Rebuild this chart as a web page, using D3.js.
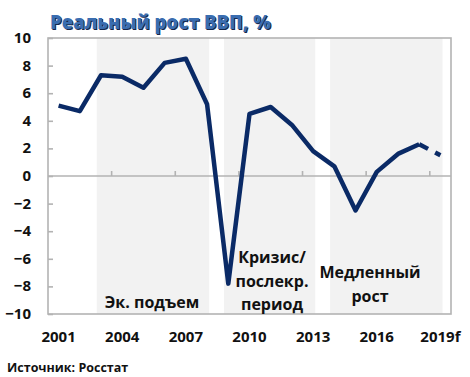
<!DOCTYPE html>
<html>
<head>
<meta charset="utf-8">
<script src="https://cdn.jsdelivr.net/npm/d3@7"></script>
<style>
  body { margin: 0; background: #fff; }
  svg text { font-family: "Open Sans", sans-serif; font-weight: bold; }
  .title { font-size: 18.5px; font-weight: 800; fill: #3a6db0; text-shadow: 1px 1px 0 #16264a; }
  .tick-label { font-size: 15px; fill: #111; }
  .note { font-size: 16px; fill: #111; }
  .source { font-size: 12.5px; fill: #111; }
</style>
</head>
<body>
<svg id="chart"></svg>
<script>
(function () {

// Data
const years = ["2001", "2002", "2003", "2004", "2005", "2006", "2007", "2008", "2009", "2010",
               "2011", "2012", "2013", "2014", "2015", "2016", "2017", "2018", "2019f"];
const growth = [5.1, 4.7, 7.3, 7.2, 6.4, 8.2, 8.5, 5.2, -7.8, 4.5,
                5.0, 3.7, 1.8, 0.7, -2.5, 0.3, 1.6, 2.3, 1.5];
const xLabels = ["2001", "2004", "2007", "2010", "2013", "2016", "2019f"];
const yTicks = [10, 8, 6, 4, 2, 0, -2, -4, -6, -8, -10];
const periodFrom = ["2003", "2009", "2014"];
const periodTo = ["2008", "2013", "2019f"];
const periodNotes = [["Эк. подъем"], ["Кризис/", "послекр.", "период"], ["Медленный", "рост"]];

const W = 470, H = 377;
const margin = {top: 38, right: 19, bottom: 63, left: 48};

const svg = d3.select("#chart")
    .attr("width", W)
    .attr("height", H);

const x = d3.scaleBand()
    .domain(years)
    .range([margin.left, W - margin.right]);
const cx = d => x(d) + x.bandwidth() / 2;

const y = d3.scaleLinear()
    .domain([-10, 10])
    .range([H - margin.bottom, margin.top]);

// shaded periods
svg.append("g").selectAll("rect")
    .data(periodFrom.map((f, i) => ({from: f, to: periodTo[i]})))
    .enter().append("rect")
    .attr("x", d => cx(d.from) - x.step() * 0.2)
    .attr("y", y(10))
    .attr("width", d => cx(d.to) - cx(d.from) + x.step() * 0.3)
    .attr("height", y(-10) - y(10))
    .attr("fill", "#f2f2f2");

// frame
const grey = "#b3b3b3";
svg.append("rect")
    .attr("x", margin.left)
    .attr("y", y(10))
    .attr("width", x.range()[1] - margin.left)
    .attr("height", y(-10) - y(10))
    .attr("fill", "none")
    .attr("stroke", grey)
    .attr("stroke-width", 1.6);

// y axis: inward ticks, labels on the left
const yAxis = svg.append("g")
    .attr("transform", `translate(${margin.left},0)`)
    .call(d3.axisRight(y).tickValues(yTicks).tickSize(5).tickFormat(""));
yAxis.select(".domain").remove();
yAxis.selectAll("line").attr("stroke", grey).attr("stroke-width", 1.6);

svg.append("g").selectAll("text")
    .data(yTicks)
    .enter().append("text")
    .attr("class", "tick-label")
    .attr("x", 31)
    .attr("y", d => y(d) + 5)
    .attr("text-anchor", "end")
    .text(d => d < 0 ? "\u2212" + Math.abs(d) : d);

// zero line with category ticks
svg.append("line")
    .attr("x1", margin.left).attr("x2", x.range()[1])
    .attr("y1", y(0)).attr("y2", y(0))
    .attr("stroke", grey).attr("stroke-width", 1.6);

svg.append("g").selectAll("line")
    .data(years.filter((d, i) => i > 0 && i % 3 === 0))
    .enter().append("line")
    .attr("x1", d => x(d)).attr("x2", d => x(d))
    .attr("y1", y(0)).attr("y2", y(0) - 5)
    .attr("stroke", grey).attr("stroke-width", 1.6);

// x labels
const xAxis = svg.append("g")
    .attr("transform", `translate(0,${y(-10) + 14})`)
    .call(d3.axisBottom(x).tickValues(xLabels).tickSize(0));
xAxis.select(".domain").remove();
xAxis.selectAll("text")
    .attr("class", "tick-label")
    .attr("font-family", null)
    .attr("font-size", null);

// line
const pts = years.map((d, i) => ({year: d, value: growth[i]}));
const line = d3.line().x(d => cx(d.year)).y(d => y(d.value));

svg.append("path")
    .datum(pts.slice(0, 18))
    .attr("d", line)
    .attr("fill", "none")
    .attr("stroke", "#0a2a66")
    .attr("stroke-width", 4.5)
    .attr("stroke-linejoin", "round");

svg.append("path")
    .datum(pts.slice(17))
    .attr("d", line)
    .attr("fill", "none")
    .attr("stroke", "#0a2a66")
    .attr("stroke-width", 4.5)
    .attr("stroke-dasharray", "10,8");

// period notes
const notePos = [{x: 152, y: 308}, {x: 272, y: 263}, {x: 370, y: 278}];
periodNotes.forEach((lines, i) => {
  svg.append("text")
    .attr("class", "note")
    .attr("text-anchor", "middle")
    .selectAll("tspan")
    .data(lines)
    .enter().append("tspan")
    .attr("x", notePos[i].x)
    .attr("y", (d, j) => notePos[i].y + j * 23.5)
    .text(d => d);
});

// title and source
svg.append("text")
    .attr("class", "title")
    .attr("x", 50)
    .attr("y", 29)
    .text("Реальный рост ВВП, %");

svg.append("text")
    .attr("class", "source")
    .attr("x", 7)
    .attr("y", 372)
    .text("Источник: Росстат");

})();
</script>
</body>
</html>
